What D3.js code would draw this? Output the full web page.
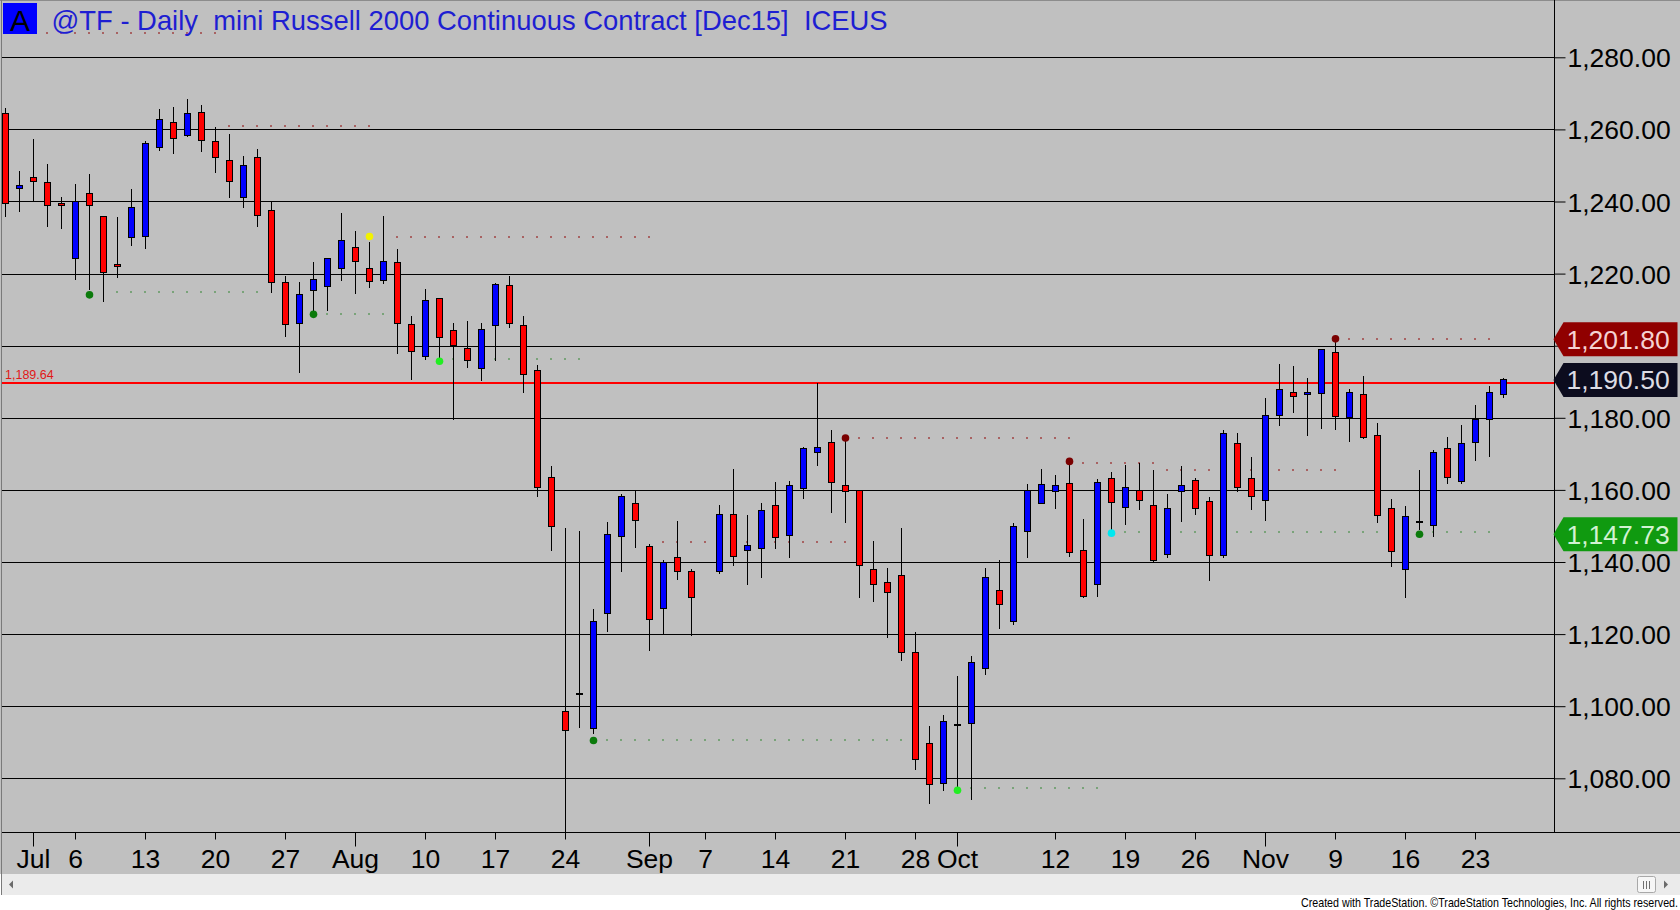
<!DOCTYPE html>
<html>
<head>
<meta charset="utf-8">
<script src="https://cdnjs.cloudflare.com/ajax/libs/d3/7.8.5/d3.min.js"></script>
<style>
html, body { margin: 0; padding: 0; background: #fff; overflow: hidden; }
svg { display: block; }
</style>
</head>
<body>
<div id="chart"></div>
<script>
"use strict";

// Daily bars, Jun 29 .. Nov 25 (one slot per weekday, Sep 7 has no bar)
var opens  = [1264.4,1243.5,1246.7,1245.3,1239.4,1224.1,1242.2,1235.8,1222.6,1230.0,
              1230.3,1255.0,1261.9,1258.2,1264.7,1256.7,1251.4,1241.1,1252.2,1237.5,
              1217.6,1206.2,1215.4,1216.5,1221.5,1227.3,1221.5,1218.0,1223.1,1205.8,
              1197.1,1213.1,1204.2,1199.2,1193.8,1205.6,1216.8,1205.6,1193.0,1163.5,
              1098.5,1103.4,1093.7,1125.6,1147.0,1156.3,1144.4,1127.1,1141.3,1137.4,
              null,  1137.3,1153.3,1143.1,1143.7,1155.8,1147.3,1160.4,1170.4,1173.2,
              1161.1,1159.9,1137.8,1134.4,1136.3,1114.9,1089.6,1078.5,1094.8,1095.1,
              1110.4,1132.1,1123.4,1148.5,1156.2,1159.6,1161.9,1143.1,1133.7,1163.2,
              1155.2,1159.8,1155.7,1142.1,1159.6,1162.7,1156.9,1141.8,1172.9,1163.2,
              1157.1,1180.5,1186.9,1186.6,1186.8,1198.2,1180.0,1186.6,1175.2,1154.9,
              1138.0,1151.0,1150.2,1171.6,1162.3,1173.2,1179.4,1186.5];
var highs  = [1265.8,1248.4,1257.4,1250.4,1241.3,1244.8,1247.6,1236.1,1235.6,1243.4,
              1256.9,1265.6,1266.3,1268.4,1266.8,1260.6,1258.6,1252.6,1254.7,1239.8,
              1219.3,1217.8,1223.1,1224.2,1236.9,1231.9,1228.9,1236.0,1226.9,1208.2,
              1215.6,1213.3,1206.4,1206.8,1206.3,1217.5,1219.2,1208.1,1194.7,1166.7,
              1149.4,1148.6,1126.9,1151.1,1158.9,1159.7,1144.9,1140.6,1151.4,1138.1,
              null,  1155.8,1165.9,1152.9,1156.3,1162.1,1162.5,1171.9,1189.6,1176.5,
              1173.9,1159.9,1145.8,1138.2,1149.4,1120.5,1094.4,1097.5,1108.3,1113.9,
              1138.3,1140.6,1150.8,1161.7,1165.9,1164.2,1167.4,1151.9,1163.1,1165.0,
              1166.9,1167.4,1165.5,1158.9,1166.5,1163.2,1157.9,1176.5,1175.8,1169.1,
              1185.4,1194.9,1194.4,1191.1,1199.1,1201.2,1188.0,1191.7,1178.5,1157.4,
              1155.4,1165.6,1171.1,1174.6,1178.1,1183.6,1188.8,1191.0];
var lows   = [1235.6,1237.1,1239.8,1233.0,1232.4,1218.3,1215.4,1212.0,1218.9,1227.7,
              1226.9,1254.1,1253.1,1258.0,1253.8,1247.8,1241.0,1238.2,1232.8,1214.6,
              1202.3,1192.5,1209.5,1209.6,1218.0,1214.4,1215.9,1217.1,1197.6,1190.5,
              1196.0,1196.7,1179.5,1193.8,1190.2,1195.7,1205.0,1186.9,1158.1,1143.1,
              1062.0,1094.0,1092.4,1120.6,1137.3,1144.0,1115.4,1119.9,1135.0,1119.5,
              null,  1136.6,1138.9,1133.6,1135.6,1143.6,1141.1,1157.5,1166.7,1153.5,
              1150.9,1130.1,1129.0,1119.0,1112.6,1082.2,1073.0,1076.5,1077.1,1073.9,
              1108.7,1121.3,1122.6,1141.2,1156.2,1154.7,1141.5,1130.1,1130.2,1148.4,
              1150.3,1154.4,1139.9,1141.2,1151.2,1153.1,1134.7,1141.1,1159.5,1154.4,
              1151.5,1177.6,1181.3,1175.0,1176.9,1176.7,1173.4,1174.1,1150.9,1138.5,
              1129.9,1148.9,1147.0,1161.6,1161.6,1168.1,1169.0,1185.5];
var closes = [1239.4,1244.4,1245.6,1238.8,1238.9,1240.0,1238.9,1220.2,1221.9,1238.3,
              1256.1,1262.8,1257.5,1264.4,1256.9,1252.2,1245.6,1250.0,1236.1,1217.5,
              1206.0,1214.3,1218.4,1224.1,1229.3,1223.4,1217.8,1223.4,1206.1,1198.3,
              1212.5,1202.2,1200.1,1195.8,1204.4,1217.0,1206.1,1191.9,1160.7,1149.9,
              1093.2,1103.4,1123.6,1147.5,1158.1,1151.5,1124.0,1140.0,1137.4,1130.1,
              null,  1153.3,1141.5,1144.6,1154.4,1146.8,1161.1,1171.4,1171.7,1162.0,
              1159.5,1139.0,1133.8,1131.6,1114.9,1085.2,1078.3,1095.7,1094.8,1112.1,
              1135.7,1128.2,1149.9,1159.7,1161.6,1161.3,1142.7,1130.4,1162.1,1156.5,
              1160.7,1157.1,1140.5,1154.9,1161.3,1154.9,1141.8,1175.7,1160.7,1158.3,
              1180.5,1187.9,1186.0,1187.1,1198.9,1180.4,1186.9,1174.5,1152.9,1142.9,
              1152.7,1151.0,1170.5,1163.5,1173.0,1179.4,1186.9,1190.5];

// x-axis labels (bar slot index -> text), month starts get the long tick
var tickIdx    = [2, 5, 10, 15, 20, 25, 30, 35, 40, 46, 50, 55, 60, 65, 68, 75, 80, 85, 90, 95, 100, 105];
var tickLabels = ["Jul","6","13","20","27","Aug","10","17","24","Sep","7","14","21","28","Oct","12","19","26","Nov","9","16","23"];
var monthTicks = ["Jul","Aug","Sep","Oct","Nov"];

var yTicks = [1080, 1100, 1120, 1140, 1160, 1180, 1200, 1220, 1240, 1260, 1280];

// swing points
var dotIdx   = [6, 22, 26, 31, 42, 60, 68, 76, 79, 95, 101];
var dotPrice = [1214.1, 1208.7, 1230.3, 1195.7, 1090.5, 1174.4, 1076.7, 1167.9, 1148.0, 1201.9, 1147.7];
var dotKind  = ["low","low","alt","low2","low","high","low2","high","low3","high","low"];

// dotted levels carried forward from swing points
var levelPrice = [1286.7, 1260.9, 1230.2, 1214.9, 1208.7, 1196.4, 1145.5, 1090.6, 1174.5, 1077.2, 1167.6, 1165.5, 1148.4, 1201.9];
var levelFrom  = [0, 16, 28, 8, 23, 32, 47, 43, 61, 69, 77, 83, 80, 96];
var levelTo    = [15, 26, 46, 18, 27, 41, 60, 64, 76, 78, 82, 95, 106, 106];
var levelKind  = ["r","r","r","g","g","g","r","g","r","g","r","r","g","r"];

var refPrice = 1189.64;
var markerPrices = [1201.80, 1190.50, 1147.73];
var markerKinds  = ["high", "last", "low"];

var title = "@TF - Daily  mini Russell 2000 Continuous Contract [Dec15]  ICEUS";
var footer = "Created with TradeStation. \u00A9TradeStation Technologies, Inc. All rights reserved.";

var larg = 1680, haut = 910;
var plotL = 2, plotT = 1, axisX = 1554.5, plotB = 832.5;
var font = "'Liberation Sans', Arial, sans-serif";

var dotColors = { low: "#0b7a0b", low2: "#22ee22", low3: "#00e8f0", high: "#7a0000", alt: "#f2f200" };
var levelColors = { r: "#a86262", g: "#79a379" };
var markerFill = { high: "#900000", last: "#0c0c1e", low: "#109a10" };
var markerText = { high: "#f5d2d2", last: "#dcdce4", low: "#d2f2d2" };

var bars = opens.map(function(o, i) {
	return { i: i, o: o, h: highs[i], l: lows[i], c: closes[i] };
}).filter(function(d) { return d.o !== null; });

var x = d3.scaleLinear().domain([0, 107]).range([5, 1503]);
var y = d3.scaleLinear().domain([1080, 1280]).range([778.3, 57.3]);

var svg = d3.select("#chart").append("svg")
	.attr("width", larg)
	.attr("height", haut)
	.attr("viewBox", "0 0 " + larg + " " + haut);

// background
svg.append("rect").attr("width", larg).attr("height", haut).attr("fill", "#ffffff");
svg.append("rect").attr("width", larg).attr("height", 874).attr("fill", "#c0c0c0");

svg.append("defs").append("clipPath").attr("id", "plotclip")
	.append("rect").attr("x", plotL).attr("y", plotT).attr("width", axisX - plotL).attr("height", plotB - plotT);

// gridlines
svg.append("g").selectAll("line").data(yTicks).enter().append("line")
	.attr("x1", plotL).attr("x2", axisX)
	.attr("y1", function(d) { return Math.round(y(d)) + 0.5; })
	.attr("y2", function(d) { return Math.round(y(d)) + 0.5; })
	.attr("stroke", "#000").attr("stroke-width", 1);

var plot = svg.append("g").attr("clip-path", "url(#plotclip)");

// dotted levels, one dot per bar slot
var levelDots = [];
levelPrice.forEach(function(p, k) {
	for (var i = levelFrom[k]; i <= levelTo[k]; i++) levelDots.push({ i: i, p: p, kind: levelKind[k] });
});
plot.append("g").selectAll("rect").data(levelDots).enter().append("rect")
	.attr("x", function(d) { return x(d.i) - 1; })
	.attr("y", function(d) { return Math.round(y(d.p)) - 1; })
	.attr("width", 2).attr("height", 2)
	.attr("fill", function(d) { return levelColors[d.kind]; });

// reference line
plot.append("line")
	.attr("x1", plotL).attr("x2", axisX)
	.attr("y1", y(refPrice)).attr("y2", y(refPrice))
	.attr("stroke", "#ff0000").attr("stroke-width", 2);
svg.append("text")
	.attr("x", 5).attr("y", y(refPrice) - 4)
	.attr("font-family", font).attr("font-size", "12.5px")
	.attr("fill", "#e01818")
	.text(d3.format(",.2f")(refPrice));

// candles
var candles = plot.append("g").attr("shape-rendering", "crispEdges");
candles.selectAll("line.wick").data(bars).enter().append("line")
	.attr("class", "wick")
	.attr("x1", function(d) { return x(d.i) + 0.5; })
	.attr("x2", function(d) { return x(d.i) + 0.5; })
	.attr("y1", function(d) { return y(d.h); })
	.attr("y2", function(d) { return y(d.l); })
	.attr("stroke", "#000").attr("stroke-width", 1);

candles.selectAll("rect.body").data(bars.filter(function(d) { return d.o !== d.c; })).enter().append("rect")
	.attr("class", "body")
	.attr("x", function(d) { return x(d.i) - 2.5; })
	.attr("y", function(d) { return y(Math.max(d.o, d.c)); })
	.attr("width", 6)
	.attr("height", function(d) { return Math.max(1, y(Math.min(d.o, d.c)) - y(Math.max(d.o, d.c))); })
	.attr("fill", function(d) { return d.c > d.o ? "#0000ff" : "#ff0000"; })
	.attr("stroke", "#000").attr("stroke-width", 1);

candles.selectAll("line.doji").data(bars.filter(function(d) { return d.o === d.c; })).enter().append("line")
	.attr("class", "doji")
	.attr("x1", function(d) { return x(d.i) - 3; })
	.attr("x2", function(d) { return x(d.i) + 4; })
	.attr("y1", function(d) { return y(d.o); })
	.attr("y2", function(d) { return y(d.o); })
	.attr("stroke", "#000").attr("stroke-width", 2);

// swing dots
plot.append("g").selectAll("circle").data(dotIdx).enter().append("circle")
	.attr("cx", function(d) { return x(d) + 0.5; })
	.attr("cy", function(d, k) { return y(dotPrice[k]); })
	.attr("r", 3.8)
	.attr("fill", function(d, k) { return dotColors[dotKind[k]]; });

// frame
svg.append("line").attr("x1", 0).attr("x2", larg).attr("y1", 0.5).attr("y2", 0.5).attr("stroke", "#8c8c8c");
svg.append("line").attr("x1", 1.5).attr("x2", 1.5).attr("y1", 0).attr("y2", 895).attr("stroke", "#7a7a7a");
svg.append("line").attr("x1", axisX).attr("x2", axisX).attr("y1", 0).attr("y2", plotB).attr("stroke", "#000");
svg.append("line").attr("x1", plotL).attr("x2", larg).attr("y1", plotB).attr("y2", plotB).attr("stroke", "#000");

// price axis; a label that sits under a price marker is hidden, as on screen
var yAxis = svg.append("g")
	.attr("transform", "translate(" + axisX + ",0)")
	.call(d3.axisRight(y).tickValues(yTicks).tickFormat(d3.format(",.2f")).tickSize(11).tickPadding(2));
yAxis.select(".domain").remove();
yAxis.selectAll("line").attr("stroke", "#000");
yAxis.selectAll("text")
	.attr("font-family", font).attr("font-size", "26.5px")
	.attr("fill", "#000").attr("dy", "0.36em")
	.attr("display", function(d) {
		var hidden = markerPrices.some(function(p) { return Math.abs(y(p) - y(d)) < 17; });
		return hidden ? "none" : null;
	});

// last / high / low markers on the price axis
var mk = svg.append("g").selectAll("g").data(markerPrices).enter().append("g")
	.attr("transform", function(d) { return "translate(" + axisX + "," + y(d) + ")"; });
mk.append("path")
	.attr("d", "M-1,0 L9,-17 L123,-17 L123,17 L9,17 Z")
	.attr("fill", function(d, k) { return markerFill[markerKinds[k]]; });
mk.append("text")
	.attr("x", 12).attr("dy", "0.36em")
	.attr("font-family", font).attr("font-size", "26.5px")
	.attr("fill", function(d, k) { return markerText[markerKinds[k]]; })
	.text(function(d) { return d3.format(",.2f")(d); });

// date axis
var xAxis = svg.append("g")
	.attr("transform", "translate(0," + plotB + ")")
	.call(d3.axisBottom(x).tickValues(tickIdx)
		.tickFormat(function(d, k) { return tickLabels[k]; })
		.tickSize(7).tickPadding(0));
xAxis.select(".domain").remove();
xAxis.selectAll(".tick line")
	.attr("stroke", "#000")
	.attr("y2", function(d, k) { return monthTicks.indexOf(tickLabels[k]) >= 0 ? 14 : 7; });
xAxis.selectAll(".tick text")
	.attr("font-family", font).attr("font-size", "26.5px")
	.attr("fill", "#000").attr("y", 35.5).attr("dy", 0);

// title
svg.append("rect").attr("x", 3).attr("y", 3).attr("width", 34).attr("height", 31).attr("fill", "#0000ff");
svg.append("text").attr("x", 20).attr("y", 30.5).attr("text-anchor", "middle")
	.attr("font-family", font).attr("font-size", "30px").attr("fill", "#000").text("A");
svg.append("text").attr("x", 51.5).attr("y", 30)
	.attr("font-family", font).attr("font-size", "27.4px").attr("fill", "#1e1ed2")
	.style("white-space", "pre")
	.text(title);

// scroll bar
svg.append("rect").attr("x", 2).attr("y", 874).attr("width", larg - 2).attr("height", 21).attr("fill", "#ebebeb");
svg.append("path").attr("d", "M9,884.5 L13,880.5 L13,888.5 Z").attr("fill", "#6a6a6a");
svg.append("path").attr("d", "M1668,884.5 L1664,880.5 L1664,888.5 Z").attr("fill", "#6a6a6a");
svg.append("rect").attr("x", 1637.5).attr("y", 876.5).attr("width", 18).attr("height", 16).attr("rx", 2)
	.attr("fill", "#f6f6f6").attr("stroke", "#a8a8a8");
svg.append("g").selectAll("line").data([0, 1, 2]).enter().append("line")
	.attr("x1", function(d) { return 1643.5 + d * 3; })
	.attr("x2", function(d) { return 1643.5 + d * 3; })
	.attr("y1", 881).attr("y2", 889)
	.attr("stroke", "#707070");

// footer
svg.append("text").attr("x", 1678).attr("y", 906.5).attr("text-anchor", "end")
	.attr("font-family", "'Liberation Sans Narrow', 'Arial Narrow', 'Liberation Sans', sans-serif")
	.attr("font-size", "13px").attr("fill", "#000")
	.attr("textLength", 377).attr("lengthAdjust", "spacingAndGlyphs")
	.text(footer);
</script>
</body>
</html>
